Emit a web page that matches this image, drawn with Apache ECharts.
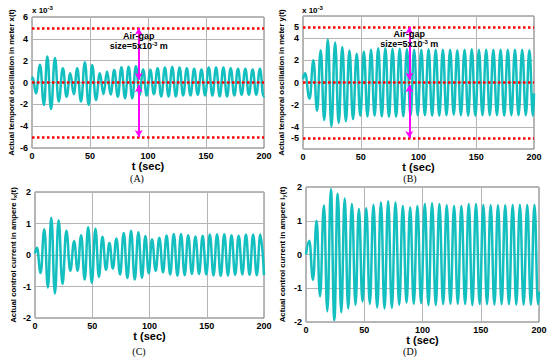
<!DOCTYPE html>
<html><head><meta charset="utf-8">
<script src="https://cdn.jsdelivr.net/npm/echarts@6/dist/echarts.min.js"></script>
<style>html,body{margin:0;padding:0;background:#fff}#c{width:550px;height:359px}</style>
</head><body><div id="c"></div>
<script>
// ---------- DATA (extrema of each oscillation) ----------
const xTicks = [0, 50, 100, 150, 200];
const yTicksA = [-6, -4, -2, 0, 2, 4, 6];
const yTicksB = [-5, -4, -2, 0, 2, 4, 5];
const yTicksC = [-2, -1, 0, 1, 2];
const yTicksD = [-2, -1, 0, 1, 2];
const airGapLevels = [5, 0, -5];            // x10^-3 m, red dotted lines
const airGapArrowT = 92;                     // sec
const airGapArrowSpans = [[0.25, 5], [-0.25, -5]];
const airGapTextY_A = [4.3, 3.37];
const airGapTextY_B = [4.38, 3.48];

// (A) x(t), x10^-3 m
const timeA = [0, 0.6, 3.4, 6.9, 10.3, 13.2, 16.4, 19.8, 23.0, 26.6, 29.8, 33.0, 36.0, 39.0, 42.2, 45.6, 48.8, 51.9, 55.1, 58.5, 61.6, 64.7, 67.8, 70.9, 74.0, 77.1, 80.2, 83.3, 86.4, 89.6, 92.7, 95.8, 98.9, 102.0, 105.1, 108.3, 111.4, 114.6, 117.7, 120.9, 124.0, 127.2, 130.3, 133.5, 136.6, 139.8, 142.9, 146.1, 149.2, 152.4, 155.5, 158.7, 161.8, 165.0, 168.1, 171.3, 174.4, 177.6, 180.7, 183.9, 187.0, 190.2, 193.3, 196.5, 199.6, 200];
const valueA = [0.25, 0.46, -1.0, 1.62, -2.05, 2.38, -2.45, 2.25, -1.75, 1.3, -1.3, 0.85, -1.07, 1.3, -1.75, 1.85, -2.05, 1.6, -1.6, 0.85, -1.05, 1.0, -1.1, 1.15, -1.3, 1.4, -1.45, 1.45, -1.45, 1.5, -1.15, 1.2, -1.2, 1.16, -1.07, 1.31, -1.28, 1.37, -1.28, 1.43, -1.28, 1.37, -1.19, 1.31, -1.19, 1.25, -1.13, 1.19, -1.19, 1.37, -1.19, 1.37, -1.28, 1.37, -1.28, 1.31, -1.19, 1.25, -1.13, 1.25, -1.13, 1.19, -1.13, 1.25, -1.25, -1.2];

// (B) y(t), x10^-3 m
const timeB = [0, 1.7, 5.7, 9.0, 12.2, 15.3, 18.4, 21.5, 24.6, 27.8, 30.9, 34.0, 37.1, 40.2, 43.3, 46.5, 49.6, 52.7, 55.8, 58.9, 62.0, 65.1, 68.2, 71.3, 74.4, 77.5, 80.6, 83.7, 86.8, 90.0, 93.1, 96.2, 99.3, 102.4, 105.5, 108.7, 111.8, 114.9, 118.0, 121.1, 124.2, 127.4, 130.5, 133.6, 136.7, 139.9, 143.0, 146.1, 149.2, 152.3, 155.4, 158.6, 161.7, 164.8, 167.9, 171.1, 174.2, 177.3, 180.4, 183.5, 186.6, 189.8, 192.9, 196.0, 199.1, 200];
const valueB = [0.3, 0.84, -1.45, 2.0, -2.55, 2.92, -3.4, 3.88, -3.98, 3.6, -3.65, 3.2, -3.5, 2.88, -3.3, 2.6, -3.0, 2.8, -3.07, 2.95, -3.0, 3.08, -3.07, 3.1, -3.1, 3.05, -3.1, 3.05, -3.05, 3.0, -3.0, 2.95, -2.95, 2.95, -2.95, 3.0, -3.0, 2.95, -3.0, 2.95, -2.95, 2.95, -2.9, 2.9, -2.95, 2.95, -3.0, 3.0, -3.0, 2.95, -2.95, 2.95, -2.95, 2.95, -2.95, 2.95, -3.0, 2.95, -2.95, 2.95, -2.95, 2.95, -2.95, 2.9, -3.0, -1.0];

// (C) i_x(t), A
const timeC = [0, 1.7, 4.9, 8.1, 11.3, 14.2, 17.4, 20.6, 24.0, 27.4, 30.8, 34.2, 37.2, 40.3, 43.4, 46.4, 49.6, 52.8, 55.8, 58.9, 62.0, 65.0, 68.0, 71.1, 74.3, 77.5, 80.7, 83.9, 87.1, 90.3, 93.4, 96.4, 99.3, 102.2, 105.4, 108.6, 111.8, 114.9, 118.1, 121.2, 124.4, 127.5, 130.7, 133.8, 137.0, 140.1, 143.3, 146.4, 149.6, 152.7, 155.9, 159.0, 162.2, 165.3, 168.5, 171.6, 174.8, 177.9, 181.1, 184.2, 187.4, 190.5, 193.7, 196.8, 200];
const valueC = [0.05, 0.23, -0.57, 0.82, -1.03, 1.18, -1.22, 1.1, -0.92, 0.77, -0.5, 0.44, -0.5, 0.63, -0.78, 0.88, -0.88, 0.83, -0.7, 0.58, -0.47, 0.38, -0.43, 0.52, -0.62, 0.7, -0.73, 0.77, -0.78, 0.72, -0.72, 0.6, -0.58, 0.5, -0.5, 0.55, -0.55, 0.62, -0.62, 0.67, -0.66, 0.67, -0.64, 0.63, -0.6, 0.59, -0.6, 0.61, -0.62, 0.65, -0.65, 0.66, -0.66, 0.66, -0.65, 0.63, -0.63, 0.61, -0.62, 0.65, -0.63, 0.65, -0.64, 0.65, -0.64];

// (D) i_y(t), A
const timeD = [0, 2.8, 6.0, 9.1, 12.0, 15.4, 18.3, 21.4, 24.3, 27.2, 30.3, 33.2, 36.2, 39.4, 42.5, 45.4, 48.5, 51.7, 54.8, 57.9, 61.1, 64.3, 67.4, 70.5, 73.7, 76.8, 80.0, 83.1, 86.3, 89.4, 92.5, 95.6, 98.8, 102.0, 105.1, 108.2, 111.4, 114.5, 117.7, 120.8, 124.0, 127.1, 130.3, 133.4, 136.6, 139.7, 142.8, 145.9, 149.1, 152.2, 155.4, 158.5, 161.7, 164.8, 167.9, 171.0, 174.2, 177.4, 180.5, 183.6, 186.8, 189.9, 193.0, 196.1, 199.2, 200];
const valueD = [0.0, 0.41, -0.75, 1.0, -1.24, 1.45, -1.68, 1.93, -1.94, 1.8, -1.71, 1.66, -1.6, 1.5, -1.49, 1.35, -1.39, 1.37, -1.46, 1.47, -1.57, 1.54, -1.6, 1.58, -1.58, 1.54, -1.49, 1.44, -1.42, 1.39, -1.46, 1.44, -1.44, 1.5, -1.5, 1.52, -1.5, 1.5, -1.47, 1.46, -1.46, 1.44, -1.46, 1.44, -1.47, 1.5, -1.5, 1.5, -1.47, 1.47, -1.47, 1.46, -1.48, 1.46, -1.47, 1.46, -1.47, 1.47, -1.48, 1.47, -1.48, 1.47, -1.48, 1.47, -1.47, -1.1];

// ---------- STYLE / LAYOUT ----------
const FONT = '"Liberation Sans", Arial, sans-serif';
const SERIF = '"Liberation Serif", "Times New Roman", serif';
const TEAL = '#14bfbf';
const GRIDC = '#b4b4b4';
const grids = [
  {left: 32, top: 17, width: 232, height: 131},
  {left: 303, top: 16, width: 231, height: 133},
  {left: 35, top: 192, width: 229, height: 126},
  {left: 306, top: 187, width: 233, height: 135}
];
const pts = (t, v) => t.map((x, i) => [x, v[i]]);

function xAxis(i, gap) {
  return {
    type: 'value', gridIndex: i, min: xTicks[0], max: xTicks[xTicks.length - 1], interval: 50,
    axisLine: {show: false}, axisTick: {show: false},
    axisLabel: {color: '#000', fontFamily: FONT, fontWeight: 'bold', fontSize: 9, margin: 3, showMinLabel: true, showMaxLabel: true},
    splitLine: {show: true, lineStyle: {color: GRIDC, width: 1}},
    name: 't (sec)', nameLocation: 'middle', nameGap: gap,
    nameTextStyle: {color: '#000', fontFamily: FONT, fontWeight: 'bold', fontSize: 11, lineHeight: 11}
  };
}
function yAxis(i, min, max, interval, ticks, name, gap, splitColor) {
  return {
    type: 'value', gridIndex: i, min: min, max: max, interval: interval,
    axisLine: {show: false}, axisTick: {show: false},
    axisLabel: {color: '#000', fontFamily: FONT, fontWeight: 'bold', fontSize: 9, margin: 4,
      showMinLabel: true, showMaxLabel: true,
      formatter: v => ticks.indexOf(v) >= 0 ? String(v) : ''},
    splitLine: {show: true, lineStyle: {color: splitColor || GRIDC, width: 1}},
    name: name, nameLocation: 'middle', nameGap: gap,
    nameTextStyle: {color: '#000', fontFamily: FONT, fontWeight: 'bold', fontSize: 7.8, lineHeight: 10,
      rich: {sub: {fontFamily: FONT, fontWeight: 'bold', fontSize: 5.5, verticalAlign: 'bottom', lineHeight: 10, color: '#000'}}}
  };
}
function waveSeries(i, t, v, withGap) {
  const s = {
    type: 'line', xAxisIndex: i, yAxisIndex: i, data: pts(t, v), showSymbol: false,
    smooth: 0.45, smoothMonotone: 'x', silent: true, z: 3,
    lineStyle: {color: TEAL, width: 2.5}
  };
  if (withGap) {
    s.markLine = {silent: true, symbol: 'none', label: {show: false},
      lineStyle: {color: '#ff0000', type: [2.5, 2.5], width: 2.5},
      data: airGapLevels.map(y => ({yAxis: y}))};
  }
  return s;
}
function arrowSeries(i) {
  return {
    type: 'line', xAxisIndex: i, yAxisIndex: i, data: [], silent: true, z: 5,
    markLine: {silent: true, symbol: ['arrow', 'arrow'], symbolSize: [6, 7], label: {show: false},
      lineStyle: {color: '#ff00ff', type: 'solid', width: 2},
      data: airGapArrowSpans.map(s => [{coord: [airGapArrowT, s[0]]}, {coord: [airGapArrowT, s[1]]}])}
  };
}

const chart = echarts.init(document.getElementById('c'), null, {renderer: 'svg'});
chart.setOption({
  animation: false,
  backgroundColor: '#fff',
  grid: grids.map(g => Object.assign({show: true, borderColor: '#707070', borderWidth: 1, backgroundColor: '#fff'}, g)),
  xAxis: [xAxis(0, 10), xAxis(1, 9), xAxis(2, 11), xAxis(3, 12)],
  yAxis: [
    yAxis(0, -6, 6, 2, yTicksA, 'Actual temporal oscillation in meter x(t)', 15),
    yAxis(1, -6, 6, 1, yTicksB, 'Actual temporal oscillation in meter y(t)', 17, [GRIDC, 'rgba(0,0,0,0)']),
    yAxis(2, -2, 2, 1, yTicksC, 'Actual control current in ampere i{sub|x}(t)', 17),
    yAxis(3, -2, 2, 1, yTicksD, 'Actual control current in ampere i{sub|y}(t)', 19)
  ],
  series: [
    waveSeries(0, timeA, valueA, true), arrowSeries(0),
    waveSeries(1, timeB, valueB, true), arrowSeries(1),
    waveSeries(2, timeC, valueC, false),
    waveSeries(3, timeD, valueD, false)
  ]
});

// ---------- annotations ----------
const g = [];
function airGapText(gi, ys) {
  const p1 = chart.convertToPixel({gridIndex: gi}, [airGapArrowT, ys[0]]);
  const p2 = chart.convertToPixel({gridIndex: gi}, [airGapArrowT, ys[1]]);
  g.push({type: 'text', x: p1[0], y: p1[1], z: 10, style: {text: 'Air-gap', fill: '#000', font: 'bold 9px ' + FONT, align: 'center', verticalAlign: 'middle', lineHeight: 9}});
  g.push({type: 'text', x: p2[0], y: p2[1], z: 10, style: {text: 'size=5x10{sup|-3} m', fill: '#000', font: 'bold 9px ' + FONT, align: 'center', verticalAlign: 'middle', lineHeight: 10,
    rich: {sup: {font: 'bold 6px ' + FONT, fill: '#000', verticalAlign: 'top', lineHeight: 10}}}});
}
airGapText(0, airGapTextY_A);
airGapText(1, airGapTextY_B);
function scaleText(x, y) {
  g.push({type: 'text', x: x, y: y, z: 10, style: {text: 'x 10{sup|-3}', fill: '#000', font: 'bold 8px ' + FONT, align: 'left', verticalAlign: 'middle', lineHeight: 11,
    rich: {sup: {font: 'bold 6px ' + FONT, fill: '#000', verticalAlign: 'top', lineHeight: 11}}}});
}
scaleText(32, 10);
scaleText(302, 10);
function panelLabel(txt, x, y) {
  g.push({type: 'text', x: x, y: y, z: 10, style: {text: txt, fill: '#000', font: '10px ' + SERIF, align: 'center', verticalAlign: 'middle', lineHeight: 10}});
}
panelLabel('(A)', 137, 178);
panelLabel('(B)', 410, 178);
panelLabel('(C)', 139, 351);
panelLabel('(D)', 410, 351);
chart.setOption({graphic: g});
</script></body></html>
